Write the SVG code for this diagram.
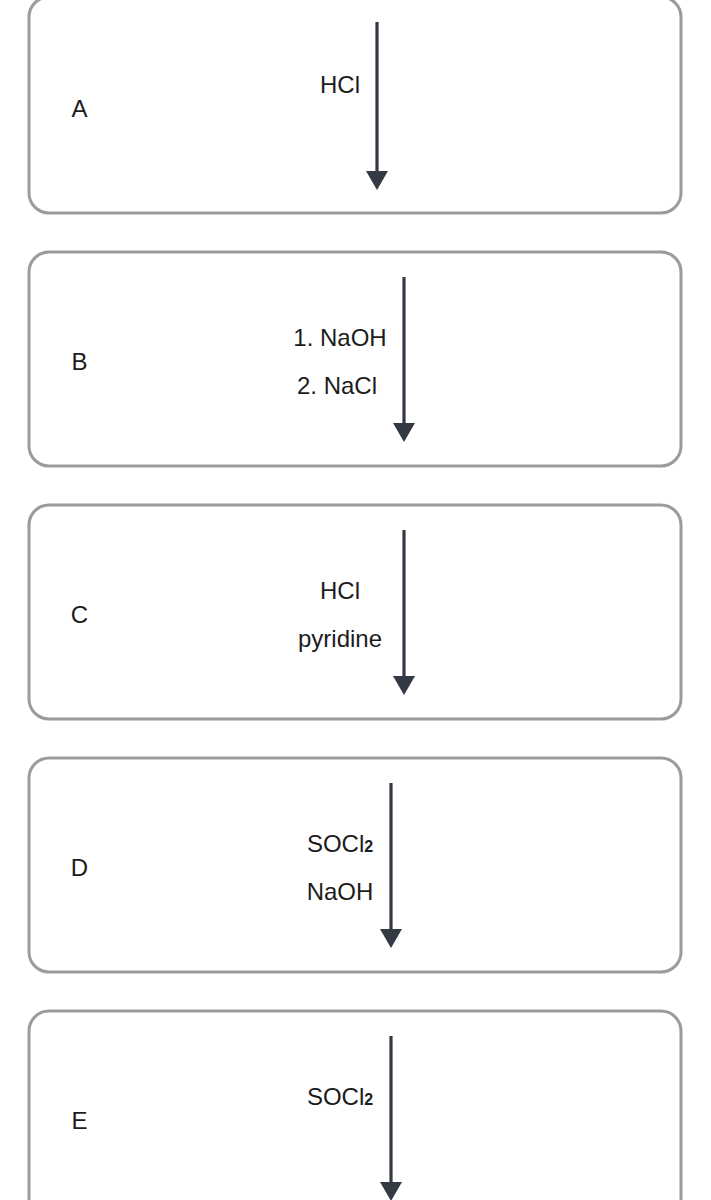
<svg xmlns="http://www.w3.org/2000/svg" width="711" height="1200" viewBox="0 0 711 1200">
<style>
.box{fill:#fff;stroke:#9b9b9b;stroke-width:3}
.t{font-family:"Liberation Sans",Arial,sans-serif;font-size:24px;fill:#1c1c1c}
.m{text-anchor:middle}
.sub{font-size:16px;font-weight:bold}
.arr{stroke:#343a44;stroke-width:3.2;fill:none;marker-end:url(#ah)}
</style>
<defs>
<marker id="ah" markerUnits="userSpaceOnUse" markerWidth="24" markerHeight="22" viewBox="0 0 24 22" refX="12" refY="14" orient="0" overflow="visible">
<path d="M1,1 L23,1 L12,20 Z" fill="#343a44"/>
</marker>
</defs>
<rect x="0" y="0" width="711" height="1200" fill="#fff"/>
<g id="nodeA">
<rect class="box" x="29" y="-3" width="652" height="216" rx="20"/>
<text class="t m" x="79.5" y="117">A</text>
<text class="t m" x="340" y="93">HCl</text>
</g>
<g id="nodeB">
<rect class="box" x="29" y="252" width="652" height="214" rx="20"/>
<text class="t m" x="79.5" y="370">B</text>
<text class="t m" x="340" y="346">1. NaOH</text>
<text class="t m" x="337" y="394">2. NaCl</text>
</g>
<g id="nodeC">
<rect class="box" x="29" y="505" width="652" height="214" rx="20"/>
<text class="t m" x="79.5" y="623">C</text>
<text class="t m" x="340" y="599">HCl</text>
<text class="t m" x="340" y="647">pyridine</text>
</g>
<g id="nodeD">
<rect class="box" x="29" y="758" width="652" height="214" rx="20"/>
<text class="t m" x="79.5" y="876">D</text>
<text class="t m" x="340" y="852">SOCl<tspan class="sub">2</tspan></text>
<text class="t m" x="340" y="900">NaOH</text>
</g>
<g id="nodeE">
<rect class="box" x="29" y="1011" width="652" height="214" rx="20"/>
<text class="t m" x="79.5" y="1129">E</text>
<text class="t m" x="340" y="1105">SOCl<tspan class="sub">2</tspan></text>
</g>
<g id="connectors">
<path class="arr" d="M377,22 V184"/>
<path class="arr" d="M404,277 V436"/>
<path class="arr" d="M404,530 V689"/>
<path class="arr" d="M391,783 V942"/>
<path class="arr" d="M391,1036 V1195"/>
</g>
</svg>
